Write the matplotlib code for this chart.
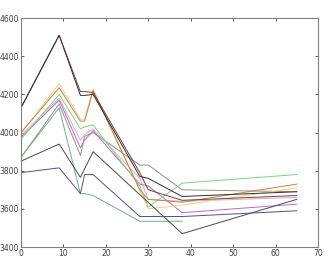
import matplotlib
matplotlib.use("Agg")
import matplotlib.pyplot as plt

# each run: (x values, y values, colour)
x_std = [0, 9, 14, 15, 17, 28, 30, 38, 65]

black_y = [4130, 4510, 4195, 4195, 4200, 3770, 3760, 3665, 3690]
darkred_y = [4130, 4510, 4215, 4215, 4210, 3790, 3700, 3645, 3670]
orange_y = [4000, 4235, 4060, 4060, 4220, 3700, 3650, 3635, 3730]
yellow_y = [3995, 4255, 4070, 4070, 4230, 3700, 3600, 3620, 3710]
green_y = [3965, 4200, 4020, 4030, 4040, 3720, 3610, 3735, 3780]
violet_y = [3975, 4170, 3920, 3960, 4010, 3730, 3720, 3580, 3625]
pink_y = [3985, 4180, 3960, 3990, 4020, 3760, 3650, 3640, 3660]
gray_y = [3870, 4150, 3880, 3980, 4000, 3830, 3830, 3700, 3690]

teal_x = [0, 9, 14, 15, 17, 28, 38]
teal_y = [3870, 4130, 3680, 3680, 3670, 3535, 3535]

dgray_x = [0, 9, 14, 17, 38, 65]
dgray_y = [3850, 3940, 3765, 3900, 3470, 3650]

navy_x = [0, 9, 14, 15, 17, 28, 38, 65]
navy_y = [3790, 3815, 3680, 3780, 3780, 3560, 3560, 3590]

runs = [
    (x_std, gray_y, "#909090"),
    (x_std, pink_y, "#e0a8d0"),
    (x_std, violet_y, "#b868c8"),
    (x_std, green_y, "#78d878"),
    (x_std, yellow_y, "#f0d078"),
    (x_std, orange_y, "#c88040"),
    (x_std, darkred_y, "#784040"),
    (x_std, black_y, "#303030"),
    (teal_x, teal_y, "#70b080"),
    (dgray_x, dgray_y, "#484850"),
    (navy_x, navy_y, "#505090"),
]

fig = plt.figure(figsize=(3.33, 2.70), dpi=100)
ax = fig.add_axes([0.063, 0.085, 0.892, 0.848])

for xs, ys, c in runs:
    ax.plot(xs, ys, color=c, lw=0.7)

ax.set_xlim(0, 70)
ax.set_ylim(3400, 4600)
ax.set_xticks(range(0, 71, 10))
ax.set_yticks(range(3400, 4601, 200))
ax.tick_params(direction="in", top=True, right=True, labelsize=5.5,
               length=2.5, width=0.6, colors="#404040", pad=1.5)
for s in ax.spines.values():
    s.set_color("#808080")
    s.set_linewidth(0.8)

fig.savefig("out.png", dpi=100)
